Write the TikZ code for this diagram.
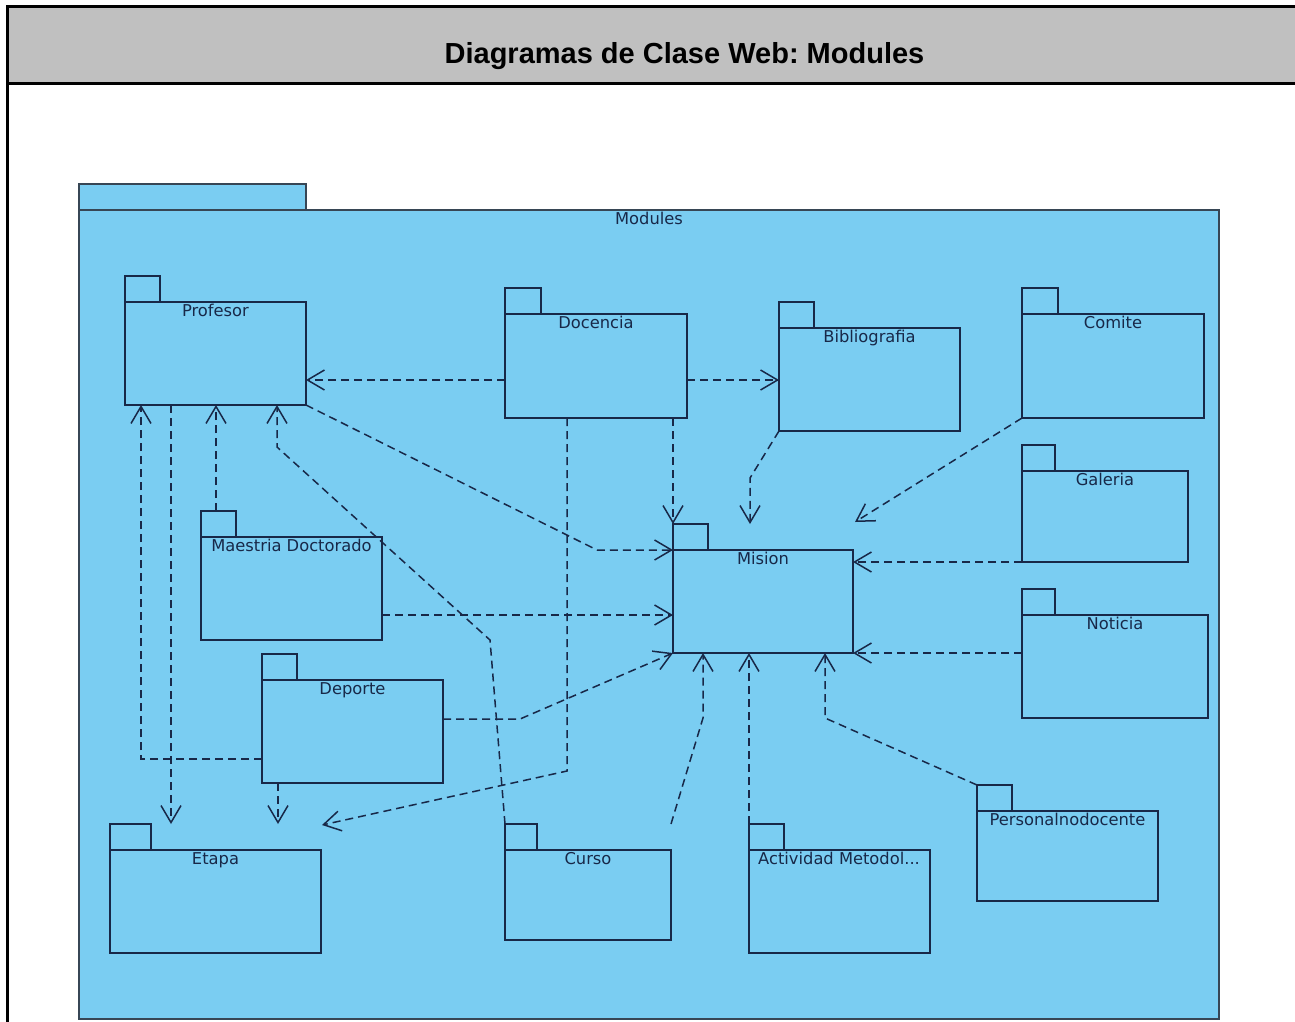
\documentclass[tikz,border=0pt]{standalone}
\usepackage{fontspec}
\usetikzlibrary{arrows.meta}
\newfontfamily\lblfont{DejaVu Sans}
\newfontfamily\ttlfont{Liberation Sans}
\definecolor{pkgfill}{RGB}{122,205,242}
\definecolor{pkgline}{RGB}{24,40,72}
\definecolor{modline}{RGB}{55,70,85}
\definecolor{titlegray}{RGB}{192,192,192}

% package: name, x, y (body top-left), width, height, tab width, label
\newcommand\umlpkg[7]{%
  \node[pkgbody, minimum width=#4pt, minimum height=#5pt] (#1) at (#2,#3) {};
  \node[pkgtab, minimum width=#6pt] (#1-tab) at (#1.north west) {};
  \node[pkglabel] (#1-lbl) at ([yshift=-14pt]#1.north) {#7};}

\begin{document}
\frenchspacing
\begin{tikzpicture}[x=1pt,y=-1pt,
  pkgbody/.style={draw=pkgline, fill=pkgfill, line width=1.6pt, inner sep=0pt, outer sep=0pt, anchor=north west},
  pkgtab/.style={pkgbody, anchor=south west, minimum height=26pt},
  pkglabel/.style={font=\lblfont\fontsize{16.3}{17}\selectfont, text=pkgline, anchor=base, inner sep=0pt},
  dep/.style={draw=pkgline, line width=1.5pt, dash pattern=on 8pt off 5pt,
    -{Straight Barb[length=17pt,width=20pt,line width=1.5pt]}}
]
\useasboundingbox (0,0) rectangle (1295,1021);

% title frame
\fill[titlegray] (7,6) rectangle (1300,83);
\draw[line width=3pt] (7,1030) -- (7,6) -- (1300,6);
\draw[line width=3pt] (7,83) -- (1300,83);
\node[font=\ttlfont\bfseries\fontsize{29}{29}\selectfont, anchor=base, inner sep=0pt] (title) at (684.5,63) {Diagramas de Clase Web: Modules};

% enclosing package
\node[pkgbody, draw=modline, line width=1.5pt, minimum width=1140pt, minimum height=809pt] (mod) at (79,210) {};
\node[pkgtab, draw=modline, line width=1.5pt, minimum width=227pt] (mod-tab) at (mod.north west) {};
\node[pkglabel] (mod-lbl) at ([yshift=-14pt]mod.north) {Modules};

% packages
\umlpkg{prof}{125}{302}{181}{103}{35}{Profesor}
\umlpkg{doc}{505}{314}{182}{104}{36}{Docencia}
\umlpkg{bib}{779}{328}{181}{103}{35}{Bibliografia}
\umlpkg{com}{1022}{314}{182}{104}{36}{Comite}
\umlpkg{gal}{1022}{471}{166}{91}{33}{Galeria}
\umlpkg{mis}{673}{550}{180}{103}{35}{Mision}
\umlpkg{not}{1022}{615}{186}{103}{33}{Noticia}
\umlpkg{mae}{201}{537}{181}{103}{35}{Maestria Doctorado}
\umlpkg{dep}{262}{680}{181}{103}{35}{Deporte}
\umlpkg{eta}{110}{850}{211}{103}{41}{Etapa}
\umlpkg{cur}{505}{850}{166}{90}{32}{Curso}
\umlpkg{per}{977}{811}{181}{90}{35}{Personalnodocente}
\node[pkgbody, minimum width=181pt, minimum height=103pt] (act) at (749,850) {};
\node[pkgtab, minimum width=35pt] (act-tab) at (act.north west) {};
\node[pkglabel, anchor=base west] (act-lbl) at ([xshift=9pt,yshift=-14pt]act.north west) {Actividad Metodol...};

% free ends of bent dependencies
\coordinate (bibbend) at (750,478);
\coordinate (comtip) at (855,522);
\coordinate (perbend) at (825,718);
\coordinate (curbend) at (703,718);
\coordinate (depbend) at (520,719);
\coordinate (profbend) at (597,550);
\coordinate (cpbend1) at (490,640);
\coordinate (cpbend2) at (277,447);
\coordinate (dpbend) at (141,759);
\coordinate (debend) at (567,771);
\coordinate (etatip) at (322,825);

% dependencies
\draw[dep] (doc.west |- 0,380) -- (prof.east |- 0,380);
\draw[dep] (doc.east |- 0,380) -- (bib.west |- 0,380);
\draw[dep] (doc.south -| mis.west) -- (mis-tab.north west);
\draw[dep] (bib.south west) -- (bibbend) -- (bibbend |- mis-tab.north);
\draw[dep] (com.south west) -- (comtip);
\draw[dep] (gal.south west) -- (gal.south west -| mis.east);
\draw[dep] (not.west |- mis.south) -- (mis.south east);
\draw[dep] (per-tab.north west) -- (perbend) -- (perbend |- mis.south);
\draw[dep] (act-tab.north west) -- (act-tab.north west |- mis.south);
\draw[dep] (cur-tab.north -| cur.east) -- (curbend) -- (curbend |- mis.south);
\draw[dep] (dep.east |- depbend) -- (depbend) -- (mis.south west);
\draw[dep] (mae.east |- 0,615) -- (mis.west |- 0,615);
\draw[dep] (prof.south east) -- (profbend) -- (mis.north west);
\draw[dep] (mae-tab.north -| 216,0) -- (prof.south -| 216,0);
\draw[dep] (cur-tab.north west) -- (cpbend1) -- (cpbend2) -- (prof.south -| cpbend2);
\draw[dep] (dep.west |- dpbend) -- (dpbend) -- (prof.south -| dpbend);
\draw[dep] (prof.south -| 171,0) -- (eta-tab.north -| 171,0);
\draw[dep] (dep.south -| 278,0) -- (eta-tab.north -| 278,0);
\draw[dep] (doc.south -| debend) -- (debend) -- (etatip);
\end{tikzpicture}
\end{document}
